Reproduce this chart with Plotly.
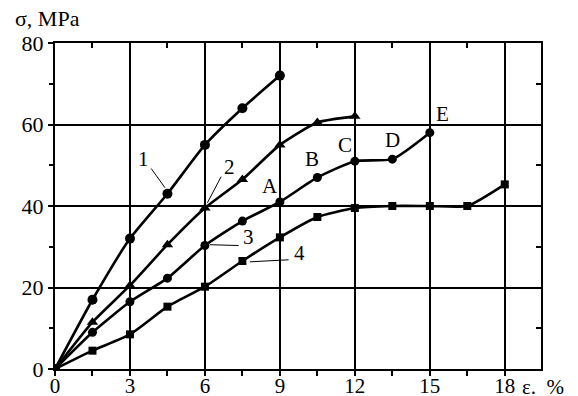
import plotly.graph_objects as go

# strain, %
x1 = [0, 1.5, 3, 4.5, 6, 7.5, 9]
s1 = [0, 17, 32, 43, 55, 64, 72]
x2 = [0, 1.5, 3, 4.5, 6, 7.5, 9, 10.5, 12]
s2 = [0, 11.5, 20.5, 30.5, 39.5, 46.5, 55, 60.5, 62]
x3 = [0, 1.5, 3, 4.5, 6, 7.5, 9, 10.5, 12, 13.5, 15]
s3 = [0, 9, 16.5, 22.3, 30.3, 36.3, 41, 47, 51, 51.5, 58]
x4 = [0, 1.5, 3, 4.5, 6, 7.5, 9, 10.5, 12, 13.5, 15, 16.5, 18]
s4 = [0, 4.5, 8.5, 15.3, 20.2, 26.5, 32.3, 37.3, 39.5, 40, 40, 40, 45.3]

curve_labels = ["1", "2", "3", "4"]
curve_label_x = [3.55, 7.0, 7.75, 9.8]
curve_label_y = [51.5, 49.6, 32.3, 28.4]
leader_from_x = [3.85, 6.65, 7.35, 9.35]
leader_from_y = [49.2, 47.2, 30.3, 26.8]
leader_to_x = [4.4, 6.1, 6.2, 7.8]
leader_to_y = [44.5, 40.8, 30.5, 26.3]

point_labels = ["A", "B", "C", "D", "E"]
point_label_x = [8.6, 10.3, 11.6, 13.5, 15.5]
point_label_y = [44.8, 51.6, 55.0, 56.2, 62.7]

x_ticks = [0, 3, 6, 9, 12, 15, 18]
y_ticks = [0, 20, 40, 60, 80]

FONT = "Liberation Serif"
fig = go.Figure()

def add_curve(xs, ys, symbol, size):
    fig.add_trace(go.Scatter(
        x=xs, y=ys, mode="lines+markers",
        line=dict(color="black", width=2.6, shape="spline", smoothing=0.55),
        marker=dict(symbol=symbol, size=size, color="black"),
        showlegend=False, hoverinfo="skip"))

add_curve(x1, s1, "circle", 10)
add_curve(x2, s2, "triangle-up", 10)
add_curve(x3, s3, "circle", 9)
add_curve(x4, s4, "square", 8)

# leader lines
for fx, fy, tx, ty in zip(leader_from_x, leader_from_y, leader_to_x, leader_to_y):
    fig.add_trace(go.Scatter(x=[fx, tx], y=[fy, ty], mode="lines",
                             line=dict(color="black", width=1),
                             showlegend=False, hoverinfo="skip"))

for t, lx, ly in zip(curve_labels, curve_label_x, curve_label_y):
    fig.add_annotation(x=lx, y=ly, text=t, showarrow=False,
                       font=dict(family=FONT, size=21, color="black"))
for t, lx, ly in zip(point_labels, point_label_x, point_label_y):
    fig.add_annotation(x=lx, y=ly, text=t, showarrow=False,
                       font=dict(family=FONT, size=21, color="black"))

# dummy trace for top/right axes
fig.add_trace(go.Scatter(x=[None], y=[None], xaxis="x2", yaxis="y2",
                         showlegend=False, hoverinfo="skip"))

XR = [0, 19.45]
YR = [0, 80]
common = dict(showgrid=False, zeroline=False, showline=True, linecolor="black",
              linewidth=2.2, tickwidth=2, tickcolor="black", fixedrange=True,
              automargin=False)
fig.update_layout(
    width=578, height=396,
    margin=dict(l=47, r=45, t=35, b=35, autoexpand=False),
    paper_bgcolor="white", plot_bgcolor="white",
    font=dict(family=FONT, size=22, color="black"),
    xaxis=dict(range=XR, tickvals=x_ticks, ticktext=[str(v) for v in x_ticks],
               ticks="outside", ticklen=5, ticklabelstandoff=-8,
               minor=dict(dtick=1.5, ticks="outside", ticklen=5, tickwidth=2,
                          tickcolor="black", showgrid=False),
               tickfont=dict(family=FONT, size=21, color="black"),
               **{**common, "showgrid": True}, gridcolor="black", gridwidth=1.6),
    yaxis=dict(range=YR, tickvals=y_ticks, ticktext=[str(v) for v in y_ticks],
               ticks="outside", ticklen=5,
               minor=dict(dtick=10, ticks="outside", ticklen=4, tickwidth=2,
                          tickcolor="black", showgrid=False),
               tickfont=dict(family=FONT, size=22, color="black"),
               **{**common, "showgrid": True}, gridcolor="black", gridwidth=1.6),
    xaxis2=dict(range=XR, overlaying="x", side="top",
                tickvals=x_ticks, ticks="inside", ticklen=5, showticklabels=False,
                minor=dict(dtick=1.5, ticks="inside", ticklen=5, tickwidth=2,
                           tickcolor="black", showgrid=False), **common),
    yaxis2=dict(range=YR, overlaying="y", side="right",
                tickvals=y_ticks, ticks="inside", ticklen=5, showticklabels=False,
                minor=dict(dtick=10, ticks="inside", ticklen=5, tickwidth=2,
                           tickcolor="black", showgrid=False), **common),
)

fig.add_annotation(xref="paper", yref="paper", x=-0.087, y=1.0, yshift=10,
                   xanchor="left", yanchor="bottom", text="σ, MPa", showarrow=False,
                   font=dict(family=FONT, size=22, color="black"))
fig.add_annotation(xref="x", yref="paper", x=18.6, y=0, yshift=-4,
                   xanchor="left", yanchor="top", text="ε. &nbsp;%", showarrow=False,
                   font=dict(family=FONT, size=21, color="black"))

fig.write_html("out.html")
